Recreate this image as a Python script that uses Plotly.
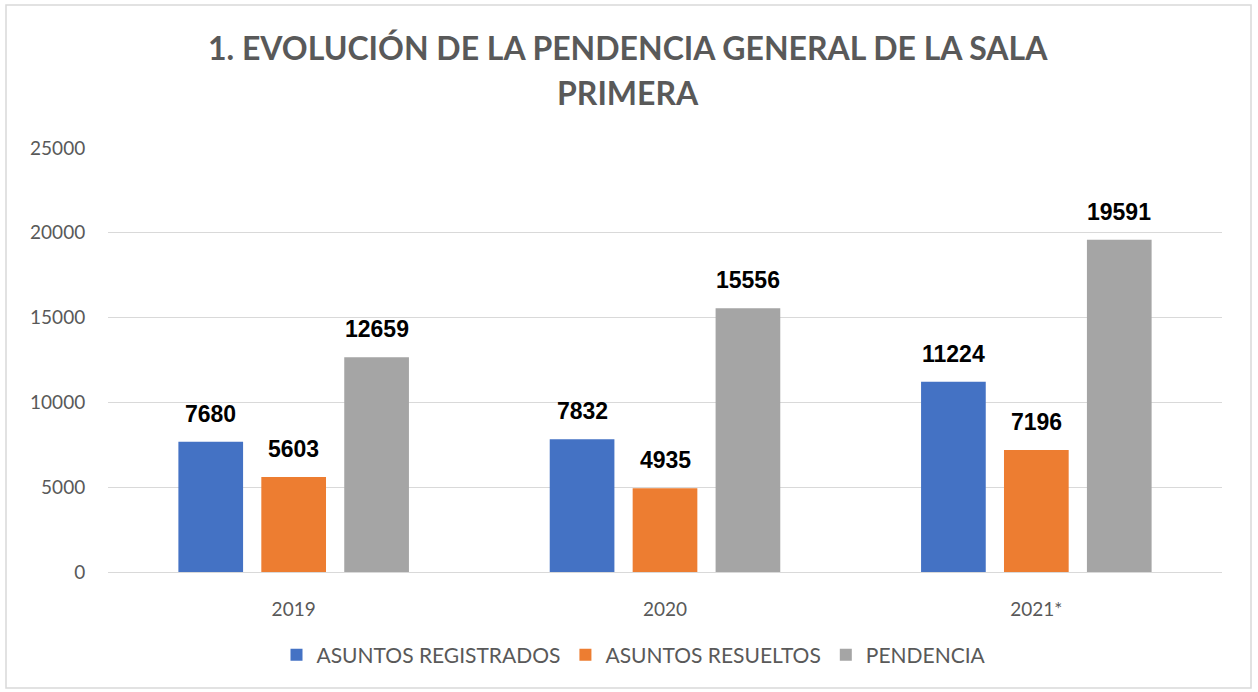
import plotly.graph_objects as go

categories = ["2019", "2020", "2021*"]
registrados = [7680, 7832, 11224]
resueltos = [5603, 4935, 7196]
pendencia = [12659, 15556, 19591]
series_names = ["ASUNTOS REGISTRADOS", "ASUNTOS RESUELTOS", "PENDENCIA"]
colors = ["#4472C4", "#ED7D31", "#A5A5A5"]
title_lines = ["1. EVOLUCIÓN DE LA PENDENCIA GENERAL DE LA SALA", "PRIMERA"]

W, H = 1258, 692
ML, MR, MT, MB = 108, 36, 148, 120
PW = W - ML - MR
PH = H - MT - MB

def px_x(p):
    return (p - ML) / PW

def px_y(p):
    return (H - MB - p) / PH

fig = go.Figure()
all_series = [registrados, resueltos, pendencia]
for name, vals, col in zip(series_names, all_series, colors):
    fig.add_trace(go.Bar(x=categories, y=vals, name=name, marker_color=col,
                         marker_line_width=0))

annotations = []
shifts = [-83, 0, 83]
for vals, sh in zip(all_series, shifts):
    for i, v in enumerate(vals):
        annotations.append(dict(x=i, y=v, xref="x", yref="y", text=str(v),
                                showarrow=False, xshift=sh, yshift=13,
                                yanchor="bottom",
                                font=dict(family="Liberation Sans", size=23,
                                          color="black", weight="bold")))

title_font = dict(family="Lato", size=32, color="#595959", weight="bold")
annotations.append(dict(x=px_x(628), y=px_y(47), xref="paper", yref="paper",
                        text=title_lines[0], showarrow=False, yanchor="middle",
                        font=title_font))
annotations.append(dict(x=px_x(628), y=px_y(93), xref="paper", yref="paper",
                        text=title_lines[1], showarrow=False, yanchor="middle",
                        font=title_font))

fig.update_layout(
    width=W, height=H,
    margin=dict(l=ML, r=MR, t=MT, b=MB),
    paper_bgcolor="white", plot_bgcolor="white",
    barmode="group", bargap=0.33, bargroupgap=0.22,
    font=dict(family="Lato", color="#595959"),
    showlegend=True,
    legend=dict(orientation="h", x=px_x(634), xanchor="center",
                y=px_y(655), yanchor="middle",
                font=dict(family="Lato", size=21, color="#595959")),
    annotations=annotations,
    shapes=[dict(type="rect", xref="paper", yref="paper",
                 x0=px_x(6), x1=px_x(1251), y0=px_y(688), y1=px_y(5),
                 line=dict(color="#D9D9D9", width=1.5), fillcolor="rgba(0,0,0,0)",
                 layer="below")],
)
fig.update_yaxes(range=[0, 25000], tickvals=[0, 5000, 10000, 15000, 20000, 25000],
                 tickformat="d",
                 showgrid=True, gridcolor="#D9D9D9", gridwidth=1,
                 zeroline=True, zerolinecolor="#D9D9D9", zerolinewidth=1,
                 showline=False, ticks="outside", ticklen=18,
                 tickcolor="rgba(0,0,0,0)",
                 tickfont=dict(family="Lato", size=19, color="#595959"))
fig.update_xaxes(type="category", showgrid=False, showline=False,
                 ticks="outside", ticklen=20, tickcolor="rgba(0,0,0,0)",
                 tickfont=dict(family="Lato", size=19, color="#595959"))

fig.write_html("out.html", config={"displayModeBar": False},
               post_script="document.body.style.margin='0px';")
